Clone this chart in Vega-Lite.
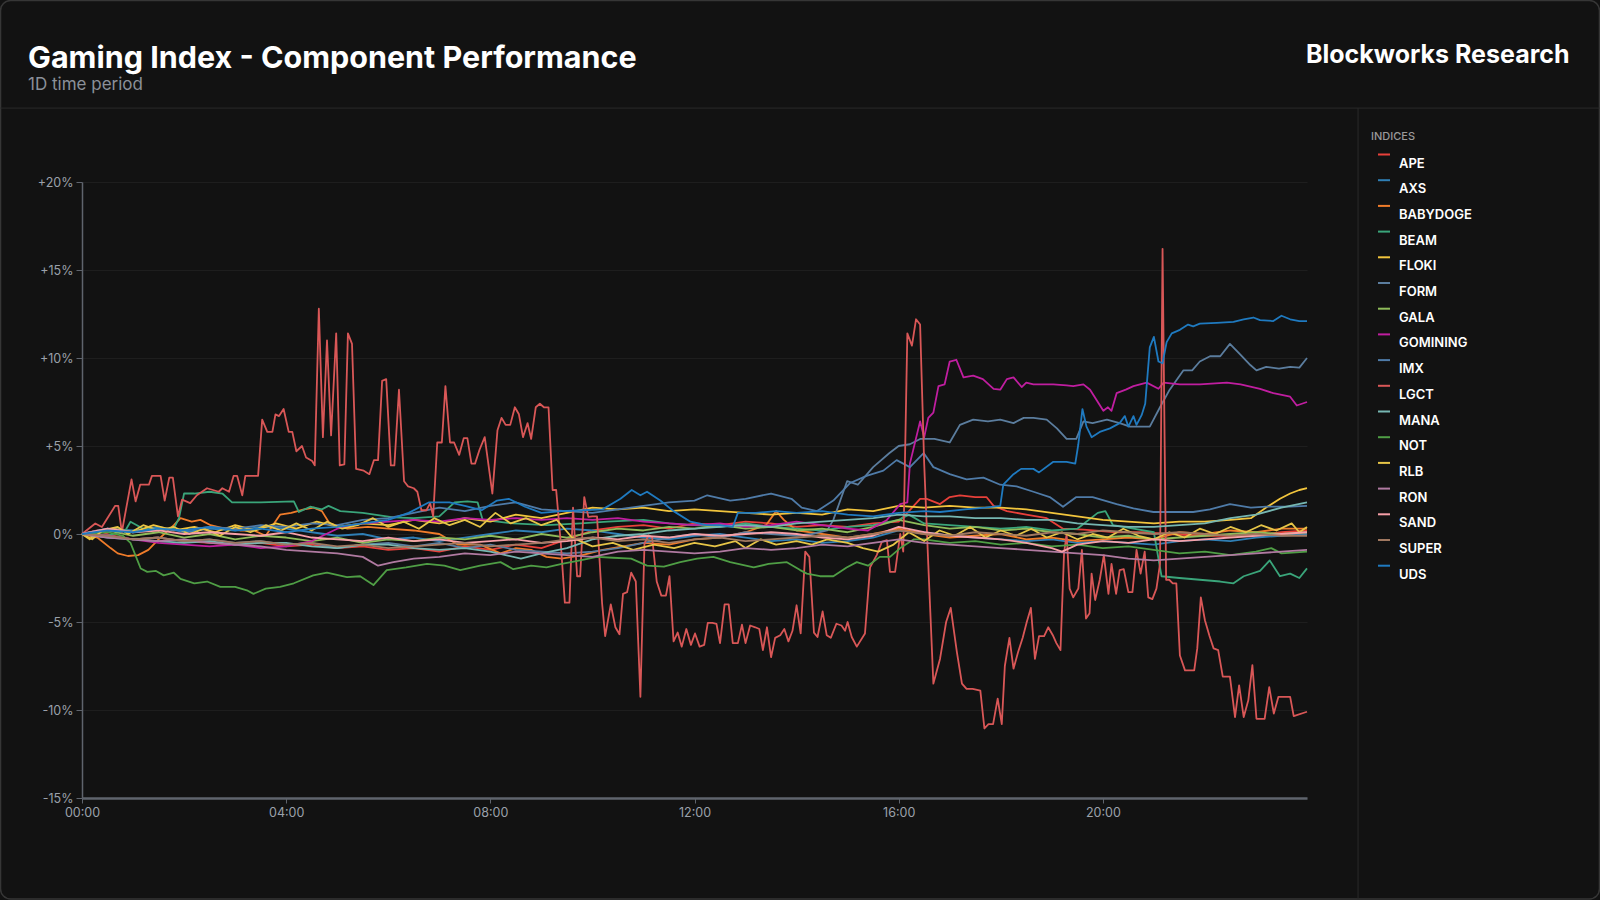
{
"$schema":"https://vega.github.io/schema/vega-lite/v6.json",
"width":1225,"height":616,"autosize":"none",
"padding":{"left":82,"top":182,"right":293,"bottom":102},
"background":"#121212",
"config":{"view":{"stroke":null},"font":"Inter"},
"title":{"text":"Gaming Index - Component Performance","subtitle":"1D time period","anchor":"start","frame":"group","font":"Inter","fontSize":30.5,"fontWeight":"bold","color":"#ffffff","subtitleFont":"Inter","subtitleFontSize":17,"subtitleColor":"#8b9099","subtitlePadding":2,"offset":0,"dx":-54,"dy":93},
"resolve":{"axis":{"x":"independent","y":"independent"}},
"layer":[
{"data":{"values":[{}]},"mark":{"type":"rect","fill":null,"filled":false,"stroke":"#363636","strokeWidth":1.5,"cornerRadius":10,"clip":false},
 "encoding":{"x":{"datum":-1.596,"type":"quantitative","scale":{"domain":[0,24],"nice":false,"zero":false},"axis":{"orient":"top","title":"Blockworks Research","titleFont":"Inter","titleFontSize":25,"titleFontWeight":"bold","titleColor":"#ffffff","titleAlign":"right","titleAnchor":"end","titleBaseline":"alphabetic","titleX":1487,"titleY":-120,"labels":false,"ticks":false,"domain":false,"grid":false}},
  "x2":{"datum":29.73},"y":{"datum":30.31,"type":"quantitative","scale":{"domain":[-15,20],"nice":false,"zero":false},"axis":null},"y2":{"datum":-20.74}}},
{"data":{"values":[{}]},"mark":{"type":"rule","color":"#2a2a2a","strokeWidth":1,"clip":false},
 "encoding":{"x":{"datum":-1.6,"type":"quantitative","axis":null},"x2":{"datum":29.73},"y":{"datum":24.2,"type":"quantitative","axis":null}}},
{"data":{"values":[{}]},"mark":{"type":"rule","color":"#2a2a2a","strokeWidth":1,"clip":false},
 "encoding":{"x":{"datum":25.0,"type":"quantitative","axis":null},"y":{"datum":24.2,"type":"quantitative","axis":null},"y2":{"datum":-20.74}}},
{"data":{"values":[
{"s":"APE","h":0,"v":0},{"s":"APE","h":0.3,"v":0.2},{"s":"APE","h":0.6,"v":-0.1},{"s":"APE","h":1,"v":-0.3},{"s":"APE","h":1.5,"v":-0.2},{"s":"APE","h":2,"v":-0.4},{"s":"APE","h":2.5,"v":-0.5},{"s":"APE","h":3,"v":-0.6},{"s":"APE","h":3.5,"v":-0.5},{"s":"APE","h":4,"v":-0.7},{"s":"APE","h":4.5,"v":-0.6},{"s":"APE","h":5,"v":-0.8},{"s":"APE","h":5.5,"v":-0.7},{"s":"APE","h":6,"v":-0.9},{"s":"APE","h":6.5,"v":-0.8},{"s":"APE","h":7,"v":-1.0},{"s":"APE","h":7.5,"v":-0.7},{"s":"APE","h":8,"v":-0.9},{"s":"APE","h":8.5,"v":-0.6},{"s":"APE","h":9,"v":-0.8},{"s":"APE","h":9.5,"v":-0.3},{"s":"APE","h":10,"v":0.2},{"s":"APE","h":10.5,"v":0.4},{"s":"APE","h":11,"v":0.5},{"s":"APE","h":11.5,"v":0.3},{"s":"APE","h":12,"v":0.6},{"s":"APE","h":12.5,"v":0.5},{"s":"APE","h":13,"v":0.7},{"s":"APE","h":13.5,"v":0.6},{"s":"APE","h":14,"v":0.4},{"s":"APE","h":14.5,"v":0.5},{"s":"APE","h":15,"v":0.4},{"s":"APE","h":15.5,"v":0.6},{"s":"APE","h":16,"v":0.7},{"s":"APE","h":16.17,"v":1.2},{"s":"APE","h":16.42,"v":2.0},{"s":"APE","h":16.55,"v":2.0},{"s":"APE","h":16.81,"v":1.7},{"s":"APE","h":17,"v":2.1},{"s":"APE","h":17.2,"v":2.2},{"s":"APE","h":17.5,"v":2.1},{"s":"APE","h":17.72,"v":2.1},{"s":"APE","h":17.86,"v":1.6},{"s":"APE","h":18.12,"v":1.3},{"s":"APE","h":18.5,"v":1.1},{"s":"APE","h":18.9,"v":0.9},{"s":"APE","h":19.22,"v":0.3},{"s":"APE","h":19.62,"v":0.25},{"s":"APE","h":20.27,"v":0.1},{"s":"APE","h":20.8,"v":0.1},{"s":"APE","h":21.25,"v":0},{"s":"APE","h":22,"v":-0.1},{"s":"APE","h":22.9,"v":-0.1},{"s":"APE","h":23.5,"v":0.1},{"s":"APE","h":24,"v":0.2},
{"s":"AXS","h":0,"v":0},{"s":"AXS","h":0.5,"v":0.3},{"s":"AXS","h":1,"v":0.2},{"s":"AXS","h":1.5,"v":0.4},{"s":"AXS","h":2,"v":0.1},{"s":"AXS","h":2.5,"v":0.3},{"s":"AXS","h":3,"v":0.2},{"s":"AXS","h":3.5,"v":0.4},{"s":"AXS","h":4,"v":0.3},{"s":"AXS","h":4.5,"v":0.1},{"s":"AXS","h":5,"v":-0.1},{"s":"AXS","h":5.5,"v":0},{"s":"AXS","h":6,"v":-0.3},{"s":"AXS","h":6.5,"v":-0.2},{"s":"AXS","h":7,"v":-0.4},{"s":"AXS","h":7.5,"v":-0.2},{"s":"AXS","h":8,"v":0},{"s":"AXS","h":8.5,"v":0.2},{"s":"AXS","h":9,"v":0.1},{"s":"AXS","h":9.5,"v":0.3},{"s":"AXS","h":10,"v":0.2},{"s":"AXS","h":10.5,"v":0},{"s":"AXS","h":11,"v":-0.2},{"s":"AXS","h":11.5,"v":-0.3},{"s":"AXS","h":12,"v":-0.1},{"s":"AXS","h":12.5,"v":0},{"s":"AXS","h":13,"v":-0.2},{"s":"AXS","h":13.5,"v":-0.4},{"s":"AXS","h":14,"v":-0.3},{"s":"AXS","h":14.5,"v":-0.5},{"s":"AXS","h":15,"v":-0.4},{"s":"AXS","h":15.5,"v":-0.2},{"s":"AXS","h":16,"v":0.2},{"s":"AXS","h":16.5,"v":0.1},{"s":"AXS","h":17,"v":-0.1},{"s":"AXS","h":17.5,"v":-0.2},{"s":"AXS","h":18,"v":-0.3},{"s":"AXS","h":18.5,"v":-0.4},{"s":"AXS","h":19,"v":-0.3},{"s":"AXS","h":19.5,"v":-0.5},{"s":"AXS","h":20,"v":-0.4},{"s":"AXS","h":20.5,"v":-0.5},{"s":"AXS","h":21,"v":-0.6},{"s":"AXS","h":21.5,"v":-0.4},{"s":"AXS","h":22,"v":-0.3},{"s":"AXS","h":22.5,"v":-0.4},{"s":"AXS","h":23,"v":-0.2},{"s":"AXS","h":23.5,"v":-0.1},{"s":"AXS","h":24,"v":0},
{"s":"BABYDOGE","h":0,"v":0},{"s":"BABYDOGE","h":0.3,"v":-0.2},{"s":"BABYDOGE","h":0.56,"v":-0.8},{"s":"BABYDOGE","h":0.7,"v":-1.1},{"s":"BABYDOGE","h":0.9,"v":-1.25},{"s":"BABYDOGE","h":1.1,"v":-1.2},{"s":"BABYDOGE","h":1.3,"v":-0.9},{"s":"BABYDOGE","h":1.5,"v":-0.3},{"s":"BABYDOGE","h":1.8,"v":0.5},{"s":"BABYDOGE","h":1.93,"v":0.9},{"s":"BABYDOGE","h":2.15,"v":0.7},{"s":"BABYDOGE","h":2.32,"v":0.8},{"s":"BABYDOGE","h":2.52,"v":0.5},{"s":"BABYDOGE","h":2.8,"v":0.3},{"s":"BABYDOGE","h":3.1,"v":0.2},{"s":"BABYDOGE","h":3.37,"v":0.2},{"s":"BABYDOGE","h":3.6,"v":-0.1},{"s":"BABYDOGE","h":3.88,"v":1.1},{"s":"BABYDOGE","h":4.1,"v":1.2},{"s":"BABYDOGE","h":4.35,"v":1.4},{"s":"BABYDOGE","h":4.54,"v":1.5},{"s":"BABYDOGE","h":4.7,"v":1.3},{"s":"BABYDOGE","h":4.85,"v":0.6},{"s":"BABYDOGE","h":5.2,"v":0.3},{"s":"BABYDOGE","h":5.6,"v":0.4},{"s":"BABYDOGE","h":6,"v":0.3},{"s":"BABYDOGE","h":6.5,"v":0.2},{"s":"BABYDOGE","h":7,"v":0},{"s":"BABYDOGE","h":7.36,"v":-0.6},{"s":"BABYDOGE","h":7.8,"v":-0.6},{"s":"BABYDOGE","h":8.2,"v":-1.1},{"s":"BABYDOGE","h":8.5,"v":-0.8},{"s":"BABYDOGE","h":8.8,"v":-0.9},{"s":"BABYDOGE","h":9.1,"v":-1.3},{"s":"BABYDOGE","h":9.4,"v":-1.4},{"s":"BABYDOGE","h":9.8,"v":-1.2},{"s":"BABYDOGE","h":10.2,"v":-0.9},{"s":"BABYDOGE","h":10.6,"v":-0.7},{"s":"BABYDOGE","h":11,"v":-0.5},{"s":"BABYDOGE","h":11.5,"v":-0.6},{"s":"BABYDOGE","h":12,"v":-0.3},{"s":"BABYDOGE","h":12.5,"v":-0.2},{"s":"BABYDOGE","h":13,"v":0.1},{"s":"BABYDOGE","h":13.4,"v":0.5},{"s":"BABYDOGE","h":13.6,"v":1.3},{"s":"BABYDOGE","h":13.75,"v":0.8},{"s":"BABYDOGE","h":14,"v":0.2},{"s":"BABYDOGE","h":14.5,"v":0},{"s":"BABYDOGE","h":15,"v":-0.2},{"s":"BABYDOGE","h":15.5,"v":0},{"s":"BABYDOGE","h":16,"v":0.3},{"s":"BABYDOGE","h":16.5,"v":0},{"s":"BABYDOGE","h":17,"v":-0.2},{"s":"BABYDOGE","h":17.5,"v":-0.1},{"s":"BABYDOGE","h":18,"v":0},{"s":"BABYDOGE","h":18.5,"v":-0.3},{"s":"BABYDOGE","h":19,"v":-0.2},{"s":"BABYDOGE","h":19.5,"v":-0.4},{"s":"BABYDOGE","h":20,"v":-0.3},{"s":"BABYDOGE","h":20.5,"v":-0.2},{"s":"BABYDOGE","h":21,"v":-0.3},{"s":"BABYDOGE","h":21.5,"v":0.1},{"s":"BABYDOGE","h":22,"v":0},{"s":"BABYDOGE","h":22.5,"v":0.2},{"s":"BABYDOGE","h":23,"v":0.1},{"s":"BABYDOGE","h":23.5,"v":0.3},{"s":"BABYDOGE","h":24,"v":0.3},
{"s":"BEAM","h":0,"v":0},{"s":"BEAM","h":0.5,"v":-0.1},{"s":"BEAM","h":0.85,"v":0.2},{"s":"BEAM","h":0.95,"v":0.7},{"s":"BEAM","h":1.2,"v":0.3},{"s":"BEAM","h":1.5,"v":0.2},{"s":"BEAM","h":1.8,"v":0.3},{"s":"BEAM","h":1.9,"v":0.9},{"s":"BEAM","h":2.0,"v":2.3},{"s":"BEAM","h":2.2,"v":2.3},{"s":"BEAM","h":2.5,"v":2.4},{"s":"BEAM","h":2.75,"v":2.3},{"s":"BEAM","h":2.94,"v":1.8},{"s":"BEAM","h":3.5,"v":1.8},{"s":"BEAM","h":4.15,"v":1.85},{"s":"BEAM","h":4.25,"v":1.25},{"s":"BEAM","h":4.47,"v":1.55},{"s":"BEAM","h":4.7,"v":1.4},{"s":"BEAM","h":4.83,"v":1.6},{"s":"BEAM","h":5.06,"v":1.3},{"s":"BEAM","h":5.5,"v":1.2},{"s":"BEAM","h":6.1,"v":0.95},{"s":"BEAM","h":6.5,"v":0.9},{"s":"BEAM","h":7.0,"v":1.0},{"s":"BEAM","h":7.3,"v":1.8},{"s":"BEAM","h":7.55,"v":1.85},{"s":"BEAM","h":7.75,"v":1.8},{"s":"BEAM","h":7.85,"v":0.8},{"s":"BEAM","h":8.45,"v":0.6},{"s":"BEAM","h":9.1,"v":0.5},{"s":"BEAM","h":9.77,"v":0.6},{"s":"BEAM","h":10.3,"v":0.7},{"s":"BEAM","h":11,"v":0.8},{"s":"BEAM","h":11.5,"v":0.6},{"s":"BEAM","h":12,"v":0.5},{"s":"BEAM","h":12.5,"v":0.4},{"s":"BEAM","h":13,"v":0.6},{"s":"BEAM","h":13.5,"v":0.4},{"s":"BEAM","h":14,"v":0.3},{"s":"BEAM","h":14.5,"v":0.2},{"s":"BEAM","h":15,"v":0.4},{"s":"BEAM","h":15.5,"v":0.5},{"s":"BEAM","h":16,"v":0.8},{"s":"BEAM","h":16.2,"v":1.1},{"s":"BEAM","h":16.5,"v":0.6},{"s":"BEAM","h":17,"v":0.5},{"s":"BEAM","h":17.5,"v":0.4},{"s":"BEAM","h":18,"v":0.3},{"s":"BEAM","h":18.5,"v":0.4},{"s":"BEAM","h":19,"v":0.2},{"s":"BEAM","h":19.5,"v":0.3},{"s":"BEAM","h":19.9,"v":1.2},{"s":"BEAM","h":20.05,"v":1.3},{"s":"BEAM","h":20.2,"v":0.5},{"s":"BEAM","h":20.6,"v":0.3},{"s":"BEAM","h":21.0,"v":0.1},{"s":"BEAM","h":21.15,"v":-2.4},{"s":"BEAM","h":21.5,"v":-2.5},{"s":"BEAM","h":21.9,"v":-2.6},{"s":"BEAM","h":22.3,"v":-2.7},{"s":"BEAM","h":22.56,"v":-2.8},{"s":"BEAM","h":22.76,"v":-2.4},{"s":"BEAM","h":23.08,"v":-2.1},{"s":"BEAM","h":23.27,"v":-1.5},{"s":"BEAM","h":23.47,"v":-2.4},{"s":"BEAM","h":23.67,"v":-2.25},{"s":"BEAM","h":23.85,"v":-2.5},{"s":"BEAM","h":24,"v":-1.95},
{"s":"FLOKI","h":0,"v":0},{"s":"FLOKI","h":0.15,"v":-0.3},{"s":"FLOKI","h":0.3,"v":0.1},{"s":"FLOKI","h":0.6,"v":0.3},{"s":"FLOKI","h":1,"v":0.1},{"s":"FLOKI","h":1.4,"v":0.5},{"s":"FLOKI","h":1.8,"v":0.2},{"s":"FLOKI","h":2.2,"v":0.4},{"s":"FLOKI","h":2.6,"v":0.1},{"s":"FLOKI","h":3,"v":0.5},{"s":"FLOKI","h":3.4,"v":0.2},{"s":"FLOKI","h":3.8,"v":0.6},{"s":"FLOKI","h":4.2,"v":0.3},{"s":"FLOKI","h":4.6,"v":0.7},{"s":"FLOKI","h":5,"v":0.4},{"s":"FLOKI","h":5.5,"v":0.6},{"s":"FLOKI","h":6,"v":0.5},{"s":"FLOKI","h":6.5,"v":0.8},{"s":"FLOKI","h":7,"v":0.6},{"s":"FLOKI","h":7.5,"v":0.9},{"s":"FLOKI","h":8,"v":0.7},{"s":"FLOKI","h":8.5,"v":1.1},{"s":"FLOKI","h":9,"v":0.9},{"s":"FLOKI","h":9.5,"v":1.2},{"s":"FLOKI","h":10,"v":1.5},{"s":"FLOKI","h":10.5,"v":1.4},{"s":"FLOKI","h":11,"v":1.5},{"s":"FLOKI","h":11.5,"v":1.3},{"s":"FLOKI","h":12,"v":1.4},{"s":"FLOKI","h":12.5,"v":1.3},{"s":"FLOKI","h":13,"v":1.2},{"s":"FLOKI","h":13.5,"v":1.1},{"s":"FLOKI","h":14,"v":1.2},{"s":"FLOKI","h":14.5,"v":1.1},{"s":"FLOKI","h":15,"v":1.4},{"s":"FLOKI","h":15.5,"v":1.3},{"s":"FLOKI","h":16,"v":1.6},{"s":"FLOKI","h":16.5,"v":1.5},{"s":"FLOKI","h":17,"v":1.6},{"s":"FLOKI","h":17.5,"v":1.5},{"s":"FLOKI","h":18,"v":1.5},{"s":"FLOKI","h":18.5,"v":1.4},{"s":"FLOKI","h":19,"v":1.2},{"s":"FLOKI","h":19.5,"v":1.0},{"s":"FLOKI","h":20,"v":0.8},{"s":"FLOKI","h":20.5,"v":0.7},{"s":"FLOKI","h":21,"v":0.6},{"s":"FLOKI","h":21.5,"v":0.7},{"s":"FLOKI","h":22,"v":0.7},{"s":"FLOKI","h":22.5,"v":0.8},{"s":"FLOKI","h":22.9,"v":0.9},{"s":"FLOKI","h":23.2,"v":1.5},{"s":"FLOKI","h":23.47,"v":2.0},{"s":"FLOKI","h":23.67,"v":2.3},{"s":"FLOKI","h":23.85,"v":2.5},{"s":"FLOKI","h":24,"v":2.6},
{"s":"FORM","h":0,"v":0},{"s":"FORM","h":0.5,"v":-0.1},{"s":"FORM","h":1,"v":-0.3},{"s":"FORM","h":1.5,"v":-0.2},{"s":"FORM","h":2,"v":-0.4},{"s":"FORM","h":2.5,"v":-0.3},{"s":"FORM","h":3,"v":-0.5},{"s":"FORM","h":3.5,"v":-0.4},{"s":"FORM","h":4,"v":-0.6},{"s":"FORM","h":4.5,"v":-0.5},{"s":"FORM","h":5,"v":-0.8},{"s":"FORM","h":5.5,"v":-0.6},{"s":"FORM","h":6,"v":-0.5},{"s":"FORM","h":6.5,"v":-0.7},{"s":"FORM","h":7,"v":-0.5},{"s":"FORM","h":7.5,"v":-0.8},{"s":"FORM","h":8,"v":-0.6},{"s":"FORM","h":8.5,"v":-0.9},{"s":"FORM","h":9,"v":-1.0},{"s":"FORM","h":9.5,"v":-1.1},{"s":"FORM","h":10,"v":-1.0},{"s":"FORM","h":10.5,"v":-0.8},{"s":"FORM","h":11,"v":-0.5},{"s":"FORM","h":11.5,"v":-0.2},{"s":"FORM","h":12,"v":0},{"s":"FORM","h":12.5,"v":-0.2},{"s":"FORM","h":13,"v":0.1},{"s":"FORM","h":13.5,"v":0},{"s":"FORM","h":14,"v":-0.1},{"s":"FORM","h":14.3,"v":0},{"s":"FORM","h":14.6,"v":0.2},{"s":"FORM","h":14.72,"v":0.8},{"s":"FORM","h":14.99,"v":3.0},{"s":"FORM","h":15.2,"v":2.8},{"s":"FORM","h":15.5,"v":3.8},{"s":"FORM","h":15.82,"v":4.6},{"s":"FORM","h":16,"v":5.0},{"s":"FORM","h":16.22,"v":5.1},{"s":"FORM","h":16.42,"v":5.4},{"s":"FORM","h":16.7,"v":5.4},{"s":"FORM","h":17,"v":5.2},{"s":"FORM","h":17.2,"v":6.2},{"s":"FORM","h":17.46,"v":6.5},{"s":"FORM","h":17.75,"v":6.4},{"s":"FORM","h":17.99,"v":6.5},{"s":"FORM","h":18.25,"v":6.3},{"s":"FORM","h":18.45,"v":6.6},{"s":"FORM","h":18.64,"v":6.6},{"s":"FORM","h":18.9,"v":6.5},{"s":"FORM","h":19.1,"v":6.0},{"s":"FORM","h":19.29,"v":5.4},{"s":"FORM","h":19.48,"v":5.4},{"s":"FORM","h":19.62,"v":6.4},{"s":"FORM","h":19.8,"v":6.3},{"s":"FORM","h":20.08,"v":6.5},{"s":"FORM","h":20.33,"v":6.3},{"s":"FORM","h":20.53,"v":6.1},{"s":"FORM","h":20.92,"v":6.1},{"s":"FORM","h":21.12,"v":7.2},{"s":"FORM","h":21.31,"v":8.2},{"s":"FORM","h":21.58,"v":9.3},{"s":"FORM","h":21.75,"v":9.3},{"s":"FORM","h":21.9,"v":9.8},{"s":"FORM","h":22.1,"v":10.1},{"s":"FORM","h":22.3,"v":10.1},{"s":"FORM","h":22.49,"v":10.8},{"s":"FORM","h":22.69,"v":10.2},{"s":"FORM","h":22.89,"v":9.6},{"s":"FORM","h":23.01,"v":9.3},{"s":"FORM","h":23.2,"v":9.5},{"s":"FORM","h":23.45,"v":9.4},{"s":"FORM","h":23.67,"v":9.5},{"s":"FORM","h":23.85,"v":9.45},{"s":"FORM","h":24,"v":10.0},
{"s":"GALA","h":0,"v":0},{"s":"GALA","h":0.5,"v":0.2},{"s":"GALA","h":1,"v":-0.1},{"s":"GALA","h":1.5,"v":0.1},{"s":"GALA","h":2,"v":-0.2},{"s":"GALA","h":2.5,"v":0},{"s":"GALA","h":3,"v":-0.3},{"s":"GALA","h":3.5,"v":-0.1},{"s":"GALA","h":4,"v":-0.2},{"s":"GALA","h":4.5,"v":-0.4},{"s":"GALA","h":5,"v":-0.2},{"s":"GALA","h":5.5,"v":-0.5},{"s":"GALA","h":6,"v":-0.3},{"s":"GALA","h":6.5,"v":-0.4},{"s":"GALA","h":7,"v":-0.2},{"s":"GALA","h":7.5,"v":-0.3},{"s":"GALA","h":8,"v":-0.1},{"s":"GALA","h":8.5,"v":-0.3},{"s":"GALA","h":9,"v":0},{"s":"GALA","h":9.5,"v":-0.2},{"s":"GALA","h":10,"v":0.1},{"s":"GALA","h":10.5,"v":0.3},{"s":"GALA","h":11,"v":0.2},{"s":"GALA","h":11.5,"v":0.4},{"s":"GALA","h":12,"v":0.3},{"s":"GALA","h":12.5,"v":0.5},{"s":"GALA","h":13,"v":0.3},{"s":"GALA","h":13.5,"v":0.4},{"s":"GALA","h":14,"v":0.2},{"s":"GALA","h":14.5,"v":0.3},{"s":"GALA","h":15,"v":0.1},{"s":"GALA","h":15.5,"v":0.4},{"s":"GALA","h":16,"v":0.8},{"s":"GALA","h":16.5,"v":0.5},{"s":"GALA","h":17,"v":0.3},{"s":"GALA","h":17.5,"v":0.4},{"s":"GALA","h":18,"v":0.2},{"s":"GALA","h":18.5,"v":0.3},{"s":"GALA","h":19,"v":0.1},{"s":"GALA","h":19.5,"v":0},{"s":"GALA","h":20,"v":-0.2},{"s":"GALA","h":20.5,"v":-0.1},{"s":"GALA","h":21,"v":-0.3},{"s":"GALA","h":21.5,"v":-0.2},{"s":"GALA","h":22,"v":-0.1},{"s":"GALA","h":22.5,"v":0},{"s":"GALA","h":23,"v":0.1},{"s":"GALA","h":23.5,"v":0},{"s":"GALA","h":24,"v":0.1},
{"s":"GOMINING","h":0,"v":0},{"s":"GOMINING","h":0.5,"v":-0.1},{"s":"GOMINING","h":1,"v":-0.3},{"s":"GOMINING","h":1.5,"v":-0.5},{"s":"GOMINING","h":2,"v":-0.6},{"s":"GOMINING","h":2.5,"v":-0.7},{"s":"GOMINING","h":3,"v":-0.6},{"s":"GOMINING","h":3.5,"v":-0.8},{"s":"GOMINING","h":4,"v":-0.7},{"s":"GOMINING","h":4.5,"v":-0.4},{"s":"GOMINING","h":5,"v":0.3},{"s":"GOMINING","h":5.5,"v":0.6},{"s":"GOMINING","h":6,"v":0.7},{"s":"GOMINING","h":6.5,"v":0.8},{"s":"GOMINING","h":7,"v":0.7},{"s":"GOMINING","h":7.5,"v":0.9},{"s":"GOMINING","h":8,"v":0.8},{"s":"GOMINING","h":8.5,"v":0.9},{"s":"GOMINING","h":9,"v":0.8},{"s":"GOMINING","h":9.5,"v":0.9},{"s":"GOMINING","h":10,"v":0.8},{"s":"GOMINING","h":10.5,"v":0.9},{"s":"GOMINING","h":11,"v":0.7},{"s":"GOMINING","h":11.5,"v":0.6},{"s":"GOMINING","h":12,"v":0.5},{"s":"GOMINING","h":12.5,"v":0.6},{"s":"GOMINING","h":13,"v":0.4},{"s":"GOMINING","h":13.5,"v":0.5},{"s":"GOMINING","h":14,"v":0.7},{"s":"GOMINING","h":14.5,"v":0.5},{"s":"GOMINING","h":15,"v":0.3},{"s":"GOMINING","h":15.4,"v":0.2},{"s":"GOMINING","h":15.77,"v":0.8},{"s":"GOMINING","h":16.03,"v":1.7},{"s":"GOMINING","h":16.17,"v":1.8},{"s":"GOMINING","h":16.22,"v":4.0},{"s":"GOMINING","h":16.42,"v":6.4},{"s":"GOMINING","h":16.5,"v":5.5},{"s":"GOMINING","h":16.58,"v":6.6},{"s":"GOMINING","h":16.68,"v":6.9},{"s":"GOMINING","h":16.78,"v":8.4},{"s":"GOMINING","h":16.9,"v":8.5},{"s":"GOMINING","h":17,"v":9.8},{"s":"GOMINING","h":17.13,"v":9.9},{"s":"GOMINING","h":17.27,"v":8.9},{"s":"GOMINING","h":17.46,"v":9.0},{"s":"GOMINING","h":17.65,"v":8.8},{"s":"GOMINING","h":17.86,"v":8.25},{"s":"GOMINING","h":17.99,"v":8.2},{"s":"GOMINING","h":18.12,"v":8.8},{"s":"GOMINING","h":18.25,"v":8.9},{"s":"GOMINING","h":18.41,"v":8.35},{"s":"GOMINING","h":18.5,"v":8.6},{"s":"GOMINING","h":18.64,"v":8.5},{"s":"GOMINING","h":19.03,"v":8.5},{"s":"GOMINING","h":19.29,"v":8.45},{"s":"GOMINING","h":19.42,"v":8.4},{"s":"GOMINING","h":19.62,"v":8.5},{"s":"GOMINING","h":19.75,"v":8.2},{"s":"GOMINING","h":19.88,"v":7.6},{"s":"GOMINING","h":20.01,"v":7.0},{"s":"GOMINING","h":20.1,"v":7.2},{"s":"GOMINING","h":20.17,"v":7.0},{"s":"GOMINING","h":20.27,"v":8.0},{"s":"GOMINING","h":20.45,"v":8.2},{"s":"GOMINING","h":20.6,"v":8.4},{"s":"GOMINING","h":20.86,"v":8.6},{"s":"GOMINING","h":21.09,"v":8.25},{"s":"GOMINING","h":21.19,"v":8.6},{"s":"GOMINING","h":21.51,"v":8.5},{"s":"GOMINING","h":21.9,"v":8.5},{"s":"GOMINING","h":22.43,"v":8.6},{"s":"GOMINING","h":22.7,"v":8.5},{"s":"GOMINING","h":23.08,"v":8.25},{"s":"GOMINING","h":23.34,"v":8.0},{"s":"GOMINING","h":23.67,"v":7.8},{"s":"GOMINING","h":23.8,"v":7.3},{"s":"GOMINING","h":24,"v":7.5},
{"s":"IMX","h":0,"v":0},{"s":"IMX","h":0.5,"v":0.3},{"s":"IMX","h":1,"v":0.1},{"s":"IMX","h":1.5,"v":0.3},{"s":"IMX","h":2,"v":0.2},{"s":"IMX","h":2.5,"v":0.4},{"s":"IMX","h":3,"v":0.3},{"s":"IMX","h":3.5,"v":0.5},{"s":"IMX","h":4,"v":0.4},{"s":"IMX","h":4.5,"v":0.6},{"s":"IMX","h":5,"v":0.5},{"s":"IMX","h":5.5,"v":0.8},{"s":"IMX","h":6,"v":0.9},{"s":"IMX","h":6.5,"v":1.2},{"s":"IMX","h":7,"v":1.5},{"s":"IMX","h":7.5,"v":1.3},{"s":"IMX","h":8,"v":1.6},{"s":"IMX","h":8.5,"v":1.8},{"s":"IMX","h":9,"v":1.4},{"s":"IMX","h":9.5,"v":1.3},{"s":"IMX","h":10,"v":1.2},{"s":"IMX","h":10.5,"v":1.4},{"s":"IMX","h":11,"v":1.6},{"s":"IMX","h":11.5,"v":1.8},{"s":"IMX","h":12,"v":1.9},{"s":"IMX","h":12.25,"v":2.2},{"s":"IMX","h":12.7,"v":1.9},{"s":"IMX","h":13,"v":2.0},{"s":"IMX","h":13.5,"v":2.3},{"s":"IMX","h":13.9,"v":2.0},{"s":"IMX","h":14.1,"v":1.5},{"s":"IMX","h":14.4,"v":1.3},{"s":"IMX","h":14.72,"v":1.9},{"s":"IMX","h":15.05,"v":2.9},{"s":"IMX","h":15.37,"v":3.3},{"s":"IMX","h":15.7,"v":3.6},{"s":"IMX","h":15.96,"v":4.2},{"s":"IMX","h":16.22,"v":3.8},{"s":"IMX","h":16.49,"v":4.6},{"s":"IMX","h":16.68,"v":3.8},{"s":"IMX","h":17,"v":3.4},{"s":"IMX","h":17.33,"v":3.1},{"s":"IMX","h":17.66,"v":3.2},{"s":"IMX","h":17.99,"v":2.8},{"s":"IMX","h":18.31,"v":2.7},{"s":"IMX","h":18.64,"v":2.4},{"s":"IMX","h":18.96,"v":2.1},{"s":"IMX","h":19.22,"v":1.55},{"s":"IMX","h":19.48,"v":2.1},{"s":"IMX","h":19.8,"v":2.1},{"s":"IMX","h":20.27,"v":1.7},{"s":"IMX","h":20.6,"v":1.45},{"s":"IMX","h":20.99,"v":1.25},{"s":"IMX","h":21.4,"v":1.25},{"s":"IMX","h":21.77,"v":1.25},{"s":"IMX","h":22.1,"v":1.4},{"s":"IMX","h":22.49,"v":1.7},{"s":"IMX","h":22.9,"v":1.5},{"s":"IMX","h":23.2,"v":1.55},{"s":"IMX","h":23.67,"v":1.55},{"s":"IMX","h":24,"v":1.6},
{"s":"LGCT","h":0,"v":0},{"s":"LGCT","h":0.26,"v":0.6},{"s":"LGCT","h":0.39,"v":0.4},{"s":"LGCT","h":0.65,"v":1.6},{"s":"LGCT","h":0.71,"v":1.6},{"s":"LGCT","h":0.78,"v":0.1},{"s":"LGCT","h":0.97,"v":3.1},{"s":"LGCT","h":1.05,"v":1.85},{"s":"LGCT","h":1.14,"v":2.8},{"s":"LGCT","h":1.31,"v":2.8},{"s":"LGCT","h":1.37,"v":3.3},{"s":"LGCT","h":1.54,"v":3.3},{"s":"LGCT","h":1.62,"v":1.9},{"s":"LGCT","h":1.71,"v":3.2},{"s":"LGCT","h":1.78,"v":3.2},{"s":"LGCT","h":1.88,"v":1.0},{"s":"LGCT","h":1.96,"v":1.95},{"s":"LGCT","h":2.12,"v":1.75},{"s":"LGCT","h":2.25,"v":2.2},{"s":"LGCT","h":2.45,"v":2.6},{"s":"LGCT","h":2.68,"v":2.4},{"s":"LGCT","h":2.75,"v":2.6},{"s":"LGCT","h":2.88,"v":2.4},{"s":"LGCT","h":2.97,"v":3.3},{"s":"LGCT","h":3.04,"v":3.3},{"s":"LGCT","h":3.14,"v":2.2},{"s":"LGCT","h":3.2,"v":3.3},{"s":"LGCT","h":3.45,"v":3.3},{"s":"LGCT","h":3.53,"v":6.5},{"s":"LGCT","h":3.63,"v":5.8},{"s":"LGCT","h":3.73,"v":5.8},{"s":"LGCT","h":3.79,"v":6.8},{"s":"LGCT","h":3.86,"v":6.7},{"s":"LGCT","h":3.95,"v":7.1},{"s":"LGCT","h":4.05,"v":5.8},{"s":"LGCT","h":4.12,"v":5.8},{"s":"LGCT","h":4.2,"v":4.7},{"s":"LGCT","h":4.31,"v":5.0},{"s":"LGCT","h":4.39,"v":4.35},{"s":"LGCT","h":4.51,"v":4.15},{"s":"LGCT","h":4.56,"v":3.9},{"s":"LGCT","h":4.64,"v":12.8},{"s":"LGCT","h":4.72,"v":5.5},{"s":"LGCT","h":4.8,"v":11.0},{"s":"LGCT","h":4.88,"v":5.6},{"s":"LGCT","h":4.98,"v":11.4},{"s":"LGCT","h":5.05,"v":3.9},{"s":"LGCT","h":5.14,"v":3.95},{"s":"LGCT","h":5.21,"v":11.4},{"s":"LGCT","h":5.29,"v":10.8},{"s":"LGCT","h":5.37,"v":3.7},{"s":"LGCT","h":5.52,"v":3.6},{"s":"LGCT","h":5.63,"v":3.4},{"s":"LGCT","h":5.72,"v":4.2},{"s":"LGCT","h":5.8,"v":4.2},{"s":"LGCT","h":5.88,"v":8.7},{"s":"LGCT","h":5.96,"v":8.8},{"s":"LGCT","h":6.05,"v":3.9},{"s":"LGCT","h":6.12,"v":3.9},{"s":"LGCT","h":6.21,"v":8.2},{"s":"LGCT","h":6.31,"v":3.0},{"s":"LGCT","h":6.39,"v":2.7},{"s":"LGCT","h":6.5,"v":2.6},{"s":"LGCT","h":6.57,"v":2.4},{"s":"LGCT","h":6.65,"v":1.35},{"s":"LGCT","h":6.75,"v":1.35},{"s":"LGCT","h":6.82,"v":1.75},{"s":"LGCT","h":6.88,"v":1.0},{"s":"LGCT","h":6.96,"v":5.2},{"s":"LGCT","h":7.05,"v":5.2},{"s":"LGCT","h":7.12,"v":8.4},{"s":"LGCT","h":7.21,"v":5.2},{"s":"LGCT","h":7.29,"v":5.2},{"s":"LGCT","h":7.39,"v":4.5},{"s":"LGCT","h":7.48,"v":5.45},{"s":"LGCT","h":7.55,"v":5.45},{"s":"LGCT","h":7.63,"v":4.0},{"s":"LGCT","h":7.7,"v":4.0},{"s":"LGCT","h":7.79,"v":4.8},{"s":"LGCT","h":7.89,"v":5.5},{"s":"LGCT","h":8.04,"v":2.3},{"s":"LGCT","h":8.14,"v":5.9},{"s":"LGCT","h":8.22,"v":6.6},{"s":"LGCT","h":8.3,"v":6.2},{"s":"LGCT","h":8.39,"v":6.2},{"s":"LGCT","h":8.48,"v":7.2},{"s":"LGCT","h":8.56,"v":6.8},{"s":"LGCT","h":8.64,"v":5.5},{"s":"LGCT","h":8.73,"v":6.3},{"s":"LGCT","h":8.8,"v":5.4},{"s":"LGCT","h":8.89,"v":7.2},{"s":"LGCT","h":8.97,"v":7.4},{"s":"LGCT","h":9.05,"v":7.2},{"s":"LGCT","h":9.14,"v":7.2},{"s":"LGCT","h":9.22,"v":2.5},{"s":"LGCT","h":9.29,"v":2.5},{"s":"LGCT","h":9.38,"v":-0.5},{"s":"LGCT","h":9.46,"v":-3.9},{"s":"LGCT","h":9.55,"v":-3.9},{"s":"LGCT","h":9.62,"v":1.5},{"s":"LGCT","h":9.7,"v":-2.4},{"s":"LGCT","h":9.76,"v":-2.4},{"s":"LGCT","h":9.84,"v":2.1},{"s":"LGCT","h":9.92,"v":0.97},{"s":"LGCT","h":10.0,"v":1.0},{"s":"LGCT","h":10.09,"v":1.0},{"s":"LGCT","h":10.19,"v":-3.95},{"s":"LGCT","h":10.25,"v":-5.8},{"s":"LGCT","h":10.36,"v":-4.0},{"s":"LGCT","h":10.45,"v":-5.3},{"s":"LGCT","h":10.53,"v":-5.7},{"s":"LGCT","h":10.6,"v":-3.4},{"s":"LGCT","h":10.68,"v":-3.3},{"s":"LGCT","h":10.76,"v":-2.2},{"s":"LGCT","h":10.85,"v":-2.7},{"s":"LGCT","h":10.94,"v":-9.25},{"s":"LGCT","h":11.02,"v":-0.54},{"s":"LGCT","h":11.1,"v":-0.07},{"s":"LGCT","h":11.17,"v":-0.2},{"s":"LGCT","h":11.26,"v":-2.7},{"s":"LGCT","h":11.35,"v":-3.5},{"s":"LGCT","h":11.44,"v":-3.5},{"s":"LGCT","h":11.51,"v":-2.4},{"s":"LGCT","h":11.59,"v":-6.1},{"s":"LGCT","h":11.67,"v":-5.6},{"s":"LGCT","h":11.75,"v":-6.4},{"s":"LGCT","h":11.84,"v":-5.4},{"s":"LGCT","h":11.93,"v":-6.3},{"s":"LGCT","h":12.01,"v":-5.65},{"s":"LGCT","h":12.1,"v":-6.4},{"s":"LGCT","h":12.19,"v":-6.3},{"s":"LGCT","h":12.26,"v":-5.05},{"s":"LGCT","h":12.35,"v":-5.05},{"s":"LGCT","h":12.43,"v":-5.1},{"s":"LGCT","h":12.5,"v":-6.2},{"s":"LGCT","h":12.59,"v":-4.0},{"s":"LGCT","h":12.67,"v":-4.0},{"s":"LGCT","h":12.75,"v":-6.2},{"s":"LGCT","h":12.85,"v":-6.2},{"s":"LGCT","h":12.93,"v":-5.15},{"s":"LGCT","h":13.0,"v":-6.2},{"s":"LGCT","h":13.09,"v":-5.2},{"s":"LGCT","h":13.19,"v":-5.3},{"s":"LGCT","h":13.27,"v":-5.4},{"s":"LGCT","h":13.34,"v":-6.6},{"s":"LGCT","h":13.42,"v":-5.3},{"s":"LGCT","h":13.5,"v":-7.0},{"s":"LGCT","h":13.58,"v":-5.9},{"s":"LGCT","h":13.68,"v":-5.75},{"s":"LGCT","h":13.76,"v":-5.4},{"s":"LGCT","h":13.84,"v":-6.1},{"s":"LGCT","h":13.92,"v":-5.5},{"s":"LGCT","h":14.0,"v":-4.05},{"s":"LGCT","h":14.08,"v":-5.65},{"s":"LGCT","h":14.17,"v":-1.0},{"s":"LGCT","h":14.25,"v":-1.3},{"s":"LGCT","h":14.34,"v":-5.6},{"s":"LGCT","h":14.41,"v":-5.85},{"s":"LGCT","h":14.51,"v":-4.4},{"s":"LGCT","h":14.59,"v":-5.75},{"s":"LGCT","h":14.67,"v":-5.9},{"s":"LGCT","h":14.78,"v":-5.1},{"s":"LGCT","h":14.88,"v":-5.2},{"s":"LGCT","h":14.95,"v":-5.5},{"s":"LGCT","h":15.0,"v":-5.0},{"s":"LGCT","h":15.08,"v":-5.85},{"s":"LGCT","h":15.18,"v":-6.4},{"s":"LGCT","h":15.34,"v":-5.65},{"s":"LGCT","h":15.44,"v":-1.9},{"s":"LGCT","h":15.57,"v":-1.2},{"s":"LGCT","h":15.67,"v":-0.45},{"s":"LGCT","h":15.77,"v":-0.35},{"s":"LGCT","h":15.83,"v":-2.15},{"s":"LGCT","h":15.93,"v":-2.15},{"s":"LGCT","h":16.03,"v":0},{"s":"LGCT","h":16.09,"v":-1.0},{"s":"LGCT","h":16.17,"v":11.4},{"s":"LGCT","h":16.26,"v":10.7},{"s":"LGCT","h":16.34,"v":12.2},{"s":"LGCT","h":16.42,"v":11.9},{"s":"LGCT","h":16.5,"v":4.0},{"s":"LGCT","h":16.58,"v":-1.7},{"s":"LGCT","h":16.68,"v":-8.5},{"s":"LGCT","h":16.81,"v":-7.1},{"s":"LGCT","h":16.93,"v":-5.0},{"s":"LGCT","h":17.02,"v":-4.2},{"s":"LGCT","h":17.14,"v":-6.7},{"s":"LGCT","h":17.24,"v":-8.5},{"s":"LGCT","h":17.33,"v":-8.8},{"s":"LGCT","h":17.45,"v":-8.8},{"s":"LGCT","h":17.6,"v":-8.9},{"s":"LGCT","h":17.68,"v":-11.05},{"s":"LGCT","h":17.76,"v":-10.8},{"s":"LGCT","h":17.85,"v":-10.8},{"s":"LGCT","h":17.94,"v":-9.35},{"s":"LGCT","h":18.02,"v":-10.8},{"s":"LGCT","h":18.08,"v":-7.5},{"s":"LGCT","h":18.17,"v":-5.9},{"s":"LGCT","h":18.25,"v":-7.65},{"s":"LGCT","h":18.34,"v":-6.7},{"s":"LGCT","h":18.43,"v":-5.9},{"s":"LGCT","h":18.51,"v":-5.0},{"s":"LGCT","h":18.59,"v":-4.2},{"s":"LGCT","h":18.67,"v":-7.1},{"s":"LGCT","h":18.75,"v":-5.8},{"s":"LGCT","h":18.85,"v":-5.8},{"s":"LGCT","h":18.93,"v":-5.3},{"s":"LGCT","h":19.02,"v":-5.75},{"s":"LGCT","h":19.09,"v":-6.2},{"s":"LGCT","h":19.17,"v":-6.6},{"s":"LGCT","h":19.24,"v":-1.1},{"s":"LGCT","h":19.29,"v":0},{"s":"LGCT","h":19.35,"v":-3.1},{"s":"LGCT","h":19.42,"v":-3.6},{"s":"LGCT","h":19.52,"v":-3.1},{"s":"LGCT","h":19.59,"v":-0.9},{"s":"LGCT","h":19.67,"v":-4.8},{"s":"LGCT","h":19.74,"v":-4.5},{"s":"LGCT","h":19.78,"v":-2.25},{"s":"LGCT","h":19.85,"v":-3.75},{"s":"LGCT","h":19.94,"v":-2.6},{"s":"LGCT","h":20.02,"v":-1.2},{"s":"LGCT","h":20.11,"v":-3.4},{"s":"LGCT","h":20.17,"v":-1.7},{"s":"LGCT","h":20.26,"v":-3.4},{"s":"LGCT","h":20.33,"v":-2.05},{"s":"LGCT","h":20.41,"v":-2.0},{"s":"LGCT","h":20.5,"v":-3.3},{"s":"LGCT","h":20.58,"v":-3.3},{"s":"LGCT","h":20.66,"v":-0.9},{"s":"LGCT","h":20.74,"v":-2.25},{"s":"LGCT","h":20.82,"v":-1.0},{"s":"LGCT","h":20.89,"v":-3.6},{"s":"LGCT","h":20.97,"v":-3.7},{"s":"LGCT","h":21.05,"v":-3.1},{"s":"LGCT","h":21.12,"v":-1.7},{"s":"LGCT","h":21.17,"v":16.2},{"s":"LGCT","h":21.24,"v":-2.6},{"s":"LGCT","h":21.3,"v":-2.6},{"s":"LGCT","h":21.37,"v":-2.8},{"s":"LGCT","h":21.44,"v":-2.8},{"s":"LGCT","h":21.51,"v":-6.9},{"s":"LGCT","h":21.61,"v":-7.75},{"s":"LGCT","h":21.7,"v":-7.75},{"s":"LGCT","h":21.79,"v":-7.75},{"s":"LGCT","h":21.85,"v":-6.5},{"s":"LGCT","h":21.92,"v":-3.6},{"s":"LGCT","h":22.0,"v":-4.9},{"s":"LGCT","h":22.09,"v":-5.8},{"s":"LGCT","h":22.17,"v":-6.5},{"s":"LGCT","h":22.26,"v":-6.6},{"s":"LGCT","h":22.35,"v":-8.1},{"s":"LGCT","h":22.49,"v":-8.1},{"s":"LGCT","h":22.59,"v":-10.4},{"s":"LGCT","h":22.67,"v":-8.6},{"s":"LGCT","h":22.76,"v":-10.4},{"s":"LGCT","h":22.85,"v":-9.45},{"s":"LGCT","h":22.93,"v":-7.45},{"s":"LGCT","h":23.01,"v":-10.5},{"s":"LGCT","h":23.17,"v":-10.5},{"s":"LGCT","h":23.26,"v":-8.7},{"s":"LGCT","h":23.35,"v":-10.2},{"s":"LGCT","h":23.44,"v":-9.25},{"s":"LGCT","h":23.67,"v":-9.25},{"s":"LGCT","h":23.74,"v":-10.35},{"s":"LGCT","h":24,"v":-10.1},
{"s":"MANA","h":0,"v":0},{"s":"MANA","h":0.5,"v":-0.2},{"s":"MANA","h":1,"v":-0.3},{"s":"MANA","h":1.5,"v":-0.4},{"s":"MANA","h":2,"v":-0.5},{"s":"MANA","h":2.5,"v":-0.4},{"s":"MANA","h":3,"v":-0.6},{"s":"MANA","h":3.5,"v":-0.5},{"s":"MANA","h":4,"v":-0.5},{"s":"MANA","h":4.5,"v":-0.7},{"s":"MANA","h":5,"v":-0.8},{"s":"MANA","h":5.5,"v":-0.6},{"s":"MANA","h":6,"v":-0.6},{"s":"MANA","h":6.5,"v":-0.8},{"s":"MANA","h":7,"v":-0.9},{"s":"MANA","h":7.5,"v":-0.8},{"s":"MANA","h":8,"v":-1.0},{"s":"MANA","h":8.3,"v":-1.2},{"s":"MANA","h":8.6,"v":-1.4},{"s":"MANA","h":9,"v":-1.1},{"s":"MANA","h":9.5,"v":-0.8},{"s":"MANA","h":10,"v":-0.3},{"s":"MANA","h":10.5,"v":-0.1},{"s":"MANA","h":11,"v":0},{"s":"MANA","h":11.5,"v":0.2},{"s":"MANA","h":12,"v":0.3},{"s":"MANA","h":12.5,"v":0.4},{"s":"MANA","h":13,"v":0.5},{"s":"MANA","h":13.5,"v":0.4},{"s":"MANA","h":14,"v":0.6},{"s":"MANA","h":14.5,"v":0.7},{"s":"MANA","h":15,"v":0.8},{"s":"MANA","h":15.5,"v":0.9},{"s":"MANA","h":16,"v":1.1},{"s":"MANA","h":16.5,"v":1.0},{"s":"MANA","h":17,"v":1.0},{"s":"MANA","h":17.5,"v":0.9},{"s":"MANA","h":18,"v":0.9},{"s":"MANA","h":18.5,"v":0.8},{"s":"MANA","h":19,"v":0.8},{"s":"MANA","h":19.5,"v":0.6},{"s":"MANA","h":20,"v":0.5},{"s":"MANA","h":20.5,"v":0.4},{"s":"MANA","h":21,"v":0.4},{"s":"MANA","h":21.5,"v":0.5},{"s":"MANA","h":22,"v":0.6},{"s":"MANA","h":22.5,"v":0.9},{"s":"MANA","h":23,"v":1.1},{"s":"MANA","h":23.5,"v":1.5},{"s":"MANA","h":24,"v":1.8},
{"s":"NOT","h":0,"v":0},{"s":"NOT","h":0.5,"v":0.1},{"s":"NOT","h":0.8,"v":-0.1},{"s":"NOT","h":0.95,"v":-0.5},{"s":"NOT","h":1.15,"v":-1.96},{"s":"NOT","h":1.28,"v":-2.15},{"s":"NOT","h":1.45,"v":-2.1},{"s":"NOT","h":1.6,"v":-2.35},{"s":"NOT","h":1.8,"v":-2.2},{"s":"NOT","h":1.93,"v":-2.55},{"s":"NOT","h":2.2,"v":-2.8},{"s":"NOT","h":2.45,"v":-2.7},{"s":"NOT","h":2.71,"v":-3.0},{"s":"NOT","h":3.0,"v":-3.0},{"s":"NOT","h":3.23,"v":-3.2},{"s":"NOT","h":3.36,"v":-3.4},{"s":"NOT","h":3.6,"v":-3.1},{"s":"NOT","h":3.88,"v":-3.0},{"s":"NOT","h":4.15,"v":-2.8},{"s":"NOT","h":4.53,"v":-2.35},{"s":"NOT","h":4.8,"v":-2.2},{"s":"NOT","h":5.19,"v":-2.45},{"s":"NOT","h":5.45,"v":-2.4},{"s":"NOT","h":5.71,"v":-2.9},{"s":"NOT","h":5.97,"v":-2.05},{"s":"NOT","h":6.35,"v":-1.9},{"s":"NOT","h":6.76,"v":-1.7},{"s":"NOT","h":7.1,"v":-1.8},{"s":"NOT","h":7.41,"v":-2.05},{"s":"NOT","h":7.8,"v":-1.8},{"s":"NOT","h":8.2,"v":-1.6},{"s":"NOT","h":8.45,"v":-2.0},{"s":"NOT","h":8.8,"v":-1.8},{"s":"NOT","h":9.1,"v":-1.9},{"s":"NOT","h":9.4,"v":-1.7},{"s":"NOT","h":9.76,"v":-1.5},{"s":"NOT","h":10.09,"v":-1.3},{"s":"NOT","h":10.4,"v":-1.35},{"s":"NOT","h":10.76,"v":-1.4},{"s":"NOT","h":11.07,"v":-1.8},{"s":"NOT","h":11.4,"v":-1.85},{"s":"NOT","h":11.72,"v":-1.6},{"s":"NOT","h":12.05,"v":-1.4},{"s":"NOT","h":12.37,"v":-1.3},{"s":"NOT","h":12.7,"v":-1.6},{"s":"NOT","h":13.16,"v":-1.9},{"s":"NOT","h":13.45,"v":-1.7},{"s":"NOT","h":13.81,"v":-1.6},{"s":"NOT","h":14.07,"v":-2.05},{"s":"NOT","h":14.2,"v":-2.25},{"s":"NOT","h":14.46,"v":-2.4},{"s":"NOT","h":14.72,"v":-2.4},{"s":"NOT","h":14.98,"v":-1.9},{"s":"NOT","h":15.18,"v":-1.6},{"s":"NOT","h":15.4,"v":-1.8},{"s":"NOT","h":15.63,"v":-1.3},{"s":"NOT","h":15.83,"v":-1.3},{"s":"NOT","h":16.03,"v":-0.8},{"s":"NOT","h":16.3,"v":-0.3},{"s":"NOT","h":16.5,"v":-0.3},{"s":"NOT","h":17,"v":-0.5},{"s":"NOT","h":17.5,"v":-0.4},{"s":"NOT","h":18,"v":-0.6},{"s":"NOT","h":18.5,"v":-0.5},{"s":"NOT","h":19,"v":-0.7},{"s":"NOT","h":19.5,"v":-0.6},{"s":"NOT","h":20,"v":-0.8},{"s":"NOT","h":20.5,"v":-0.7},{"s":"NOT","h":21,"v":-0.9},{"s":"NOT","h":21.5,"v":-1.1},{"s":"NOT","h":22,"v":-1.0},{"s":"NOT","h":22.5,"v":-1.2},{"s":"NOT","h":23,"v":-1.0},{"s":"NOT","h":23.3,"v":-0.8},{"s":"NOT","h":23.5,"v":-1.1},{"s":"NOT","h":24,"v":-1.0},
{"s":"RLB","h":0,"v":0},{"s":"RLB","h":0.2,"v":-0.3},{"s":"RLB","h":0.4,"v":0.2},{"s":"RLB","h":0.7,"v":0.4},{"s":"RLB","h":0.9,"v":0},{"s":"RLB","h":1.2,"v":0.5},{"s":"RLB","h":1.5,"v":0.2},{"s":"RLB","h":1.8,"v":0.4},{"s":"RLB","h":2.1,"v":0},{"s":"RLB","h":2.4,"v":0.3},{"s":"RLB","h":2.7,"v":-0.1},{"s":"RLB","h":3.0,"v":0.4},{"s":"RLB","h":3.3,"v":0.1},{"s":"RLB","h":3.6,"v":0.5},{"s":"RLB","h":3.9,"v":0.2},{"s":"RLB","h":4.2,"v":0.6},{"s":"RLB","h":4.5,"v":0.2},{"s":"RLB","h":4.8,"v":0.7},{"s":"RLB","h":5.1,"v":0.3},{"s":"RLB","h":5.4,"v":0.5},{"s":"RLB","h":5.7,"v":0.9},{"s":"RLB","h":6.0,"v":0.4},{"s":"RLB","h":6.3,"v":0.7},{"s":"RLB","h":6.6,"v":0.3},{"s":"RLB","h":6.9,"v":0.9},{"s":"RLB","h":7.2,"v":0.5},{"s":"RLB","h":7.5,"v":0.8},{"s":"RLB","h":7.8,"v":0.4},{"s":"RLB","h":8.1,"v":1.2},{"s":"RLB","h":8.4,"v":0.6},{"s":"RLB","h":8.7,"v":0.9},{"s":"RLB","h":9.0,"v":0.5},{"s":"RLB","h":9.3,"v":0.8},{"s":"RLB","h":9.6,"v":-0.2},{"s":"RLB","h":10.0,"v":-0.7},{"s":"RLB","h":10.4,"v":-0.5},{"s":"RLB","h":10.8,"v":-0.9},{"s":"RLB","h":11.2,"v":-0.6},{"s":"RLB","h":11.6,"v":-0.8},{"s":"RLB","h":12.0,"v":-0.5},{"s":"RLB","h":12.4,"v":-0.7},{"s":"RLB","h":12.8,"v":-0.4},{"s":"RLB","h":13.0,"v":-0.8},{"s":"RLB","h":13.3,"v":-0.3},{"s":"RLB","h":13.6,"v":-0.6},{"s":"RLB","h":14.0,"v":-0.4},{"s":"RLB","h":14.3,"v":-0.6},{"s":"RLB","h":14.6,"v":-0.3},{"s":"RLB","h":15.0,"v":-0.5},{"s":"RLB","h":15.3,"v":-0.8},{"s":"RLB","h":15.6,"v":-1.0},{"s":"RLB","h":15.9,"v":-0.6},{"s":"RLB","h":16.2,"v":0.1},{"s":"RLB","h":16.5,"v":-0.4},{"s":"RLB","h":16.8,"v":0.2},{"s":"RLB","h":17.1,"v":-0.1},{"s":"RLB","h":17.4,"v":0.4},{"s":"RLB","h":17.7,"v":-0.2},{"s":"RLB","h":18.0,"v":0.2},{"s":"RLB","h":18.3,"v":-0.1},{"s":"RLB","h":18.6,"v":0.3},{"s":"RLB","h":18.9,"v":-0.2},{"s":"RLB","h":19.2,"v":0.1},{"s":"RLB","h":19.5,"v":-0.3},{"s":"RLB","h":19.8,"v":0},{"s":"RLB","h":20.1,"v":-0.2},{"s":"RLB","h":20.4,"v":0.3},{"s":"RLB","h":20.7,"v":-0.1},{"s":"RLB","h":21.0,"v":-0.3},{"s":"RLB","h":21.3,"v":0.1},{"s":"RLB","h":21.6,"v":-0.2},{"s":"RLB","h":21.9,"v":0.3},{"s":"RLB","h":22.2,"v":0},{"s":"RLB","h":22.5,"v":0.4},{"s":"RLB","h":22.8,"v":0.1},{"s":"RLB","h":23.1,"v":0.5},{"s":"RLB","h":23.4,"v":0.2},{"s":"RLB","h":23.7,"v":0.6},{"s":"RLB","h":23.85,"v":0.1},{"s":"RLB","h":24,"v":0.4},
{"s":"RON","h":0,"v":0},{"s":"RON","h":0.5,"v":-0.2},{"s":"RON","h":1,"v":-0.3},{"s":"RON","h":1.5,"v":-0.4},{"s":"RON","h":2,"v":-0.3},{"s":"RON","h":2.5,"v":-0.5},{"s":"RON","h":3,"v":-0.6},{"s":"RON","h":3.5,"v":-0.7},{"s":"RON","h":4,"v":-0.9},{"s":"RON","h":4.5,"v":-1.0},{"s":"RON","h":5,"v":-1.1},{"s":"RON","h":5.5,"v":-1.3},{"s":"RON","h":5.8,"v":-1.8},{"s":"RON","h":6.1,"v":-1.6},{"s":"RON","h":6.5,"v":-1.4},{"s":"RON","h":7,"v":-1.3},{"s":"RON","h":7.5,"v":-1.1},{"s":"RON","h":8,"v":-1.2},{"s":"RON","h":8.5,"v":-1.0},{"s":"RON","h":9,"v":-1.1},{"s":"RON","h":9.5,"v":-1.2},{"s":"RON","h":10,"v":-1.3},{"s":"RON","h":10.5,"v":-1.0},{"s":"RON","h":11,"v":-0.9},{"s":"RON","h":11.5,"v":-1.0},{"s":"RON","h":12,"v":-1.1},{"s":"RON","h":12.5,"v":-1.0},{"s":"RON","h":13,"v":-0.8},{"s":"RON","h":13.5,"v":-0.9},{"s":"RON","h":14,"v":-0.8},{"s":"RON","h":14.5,"v":-0.6},{"s":"RON","h":15,"v":-0.7},{"s":"RON","h":15.5,"v":-0.5},{"s":"RON","h":16,"v":-0.3},{"s":"RON","h":16.5,"v":-0.5},{"s":"RON","h":17,"v":-0.6},{"s":"RON","h":17.5,"v":-0.7},{"s":"RON","h":18,"v":-0.8},{"s":"RON","h":18.5,"v":-0.9},{"s":"RON","h":19,"v":-1.0},{"s":"RON","h":19.5,"v":-1.1},{"s":"RON","h":20,"v":-1.2},{"s":"RON","h":20.5,"v":-1.4},{"s":"RON","h":21,"v":-1.5},{"s":"RON","h":21.5,"v":-1.4},{"s":"RON","h":22,"v":-1.3},{"s":"RON","h":22.5,"v":-1.2},{"s":"RON","h":23,"v":-1.1},{"s":"RON","h":23.5,"v":-1.0},{"s":"RON","h":24,"v":-0.9},
{"s":"SAND","h":0,"v":0},{"s":"SAND","h":0.5,"v":0.3},{"s":"SAND","h":1,"v":0.1},{"s":"SAND","h":1.5,"v":0.2},{"s":"SAND","h":2,"v":0},{"s":"SAND","h":2.5,"v":0.1},{"s":"SAND","h":3,"v":0},{"s":"SAND","h":3.5,"v":-0.1},{"s":"SAND","h":4,"v":0.1},{"s":"SAND","h":4.5,"v":-0.2},{"s":"SAND","h":5,"v":-0.3},{"s":"SAND","h":5.5,"v":-0.4},{"s":"SAND","h":6,"v":-0.2},{"s":"SAND","h":6.5,"v":-0.4},{"s":"SAND","h":7,"v":-0.3},{"s":"SAND","h":7.5,"v":-0.5},{"s":"SAND","h":8,"v":-0.4},{"s":"SAND","h":8.5,"v":-0.3},{"s":"SAND","h":9,"v":-0.5},{"s":"SAND","h":9.5,"v":-0.4},{"s":"SAND","h":10,"v":-0.2},{"s":"SAND","h":10.5,"v":-0.3},{"s":"SAND","h":11,"v":-0.1},{"s":"SAND","h":11.5,"v":-0.2},{"s":"SAND","h":12,"v":0},{"s":"SAND","h":12.5,"v":-0.1},{"s":"SAND","h":13,"v":0},{"s":"SAND","h":13.5,"v":0.1},{"s":"SAND","h":14,"v":0},{"s":"SAND","h":14.5,"v":-0.2},{"s":"SAND","h":15,"v":-0.3},{"s":"SAND","h":15.5,"v":-0.1},{"s":"SAND","h":16,"v":0.4},{"s":"SAND","h":16.5,"v":0.1},{"s":"SAND","h":17,"v":-0.1},{"s":"SAND","h":17.5,"v":-0.2},{"s":"SAND","h":18,"v":-0.3},{"s":"SAND","h":18.5,"v":-0.5},{"s":"SAND","h":19,"v":-0.8},{"s":"SAND","h":19.2,"v":-1.0},{"s":"SAND","h":19.5,"v":-0.6},{"s":"SAND","h":20,"v":-0.4},{"s":"SAND","h":20.5,"v":-0.5},{"s":"SAND","h":21,"v":-0.3},{"s":"SAND","h":21.5,"v":-0.4},{"s":"SAND","h":22,"v":-0.3},{"s":"SAND","h":22.5,"v":-0.2},{"s":"SAND","h":23,"v":-0.1},{"s":"SAND","h":23.5,"v":0},{"s":"SAND","h":24,"v":0.1},
{"s":"SUPER","h":0,"v":0},{"s":"SUPER","h":0.5,"v":-0.1},{"s":"SUPER","h":1,"v":-0.3},{"s":"SUPER","h":1.5,"v":-0.2},{"s":"SUPER","h":2,"v":-0.4},{"s":"SUPER","h":2.5,"v":-0.3},{"s":"SUPER","h":3,"v":-0.5},{"s":"SUPER","h":3.5,"v":-0.4},{"s":"SUPER","h":4,"v":-0.6},{"s":"SUPER","h":4.5,"v":-0.5},{"s":"SUPER","h":5,"v":-0.7},{"s":"SUPER","h":5.5,"v":-0.6},{"s":"SUPER","h":6,"v":-0.8},{"s":"SUPER","h":6.5,"v":-0.7},{"s":"SUPER","h":7,"v":-0.6},{"s":"SUPER","h":7.5,"v":-0.5},{"s":"SUPER","h":8,"v":-0.7},{"s":"SUPER","h":8.5,"v":-0.6},{"s":"SUPER","h":9,"v":-0.5},{"s":"SUPER","h":9.5,"v":-0.3},{"s":"SUPER","h":10,"v":-0.2},{"s":"SUPER","h":10.5,"v":-0.4},{"s":"SUPER","h":11,"v":-0.3},{"s":"SUPER","h":11.5,"v":-0.5},{"s":"SUPER","h":12,"v":-0.3},{"s":"SUPER","h":12.5,"v":-0.2},{"s":"SUPER","h":13,"v":-0.4},{"s":"SUPER","h":13.5,"v":-0.3},{"s":"SUPER","h":14,"v":-0.2},{"s":"SUPER","h":14.5,"v":-0.1},{"s":"SUPER","h":15,"v":-0.2},{"s":"SUPER","h":15.5,"v":0},{"s":"SUPER","h":16,"v":0.2},{"s":"SUPER","h":16.5,"v":0},{"s":"SUPER","h":17,"v":-0.1},{"s":"SUPER","h":17.5,"v":0.1},{"s":"SUPER","h":18,"v":0},{"s":"SUPER","h":18.5,"v":-0.1},{"s":"SUPER","h":19,"v":0.1},{"s":"SUPER","h":19.5,"v":0},{"s":"SUPER","h":20,"v":0.2},{"s":"SUPER","h":20.5,"v":0.1},{"s":"SUPER","h":21,"v":0},{"s":"SUPER","h":21.5,"v":0.1},{"s":"SUPER","h":22,"v":0},{"s":"SUPER","h":22.5,"v":-0.1},{"s":"SUPER","h":23,"v":0},{"s":"SUPER","h":23.5,"v":-0.1},{"s":"SUPER","h":24,"v":-0.1},
{"s":"UDS","h":0,"v":0},{"s":"UDS","h":0.5,"v":0.2},{"s":"UDS","h":1,"v":0.1},{"s":"UDS","h":1.5,"v":0.3},{"s":"UDS","h":2,"v":0.2},{"s":"UDS","h":2.5,"v":0.4},{"s":"UDS","h":3,"v":0.2},{"s":"UDS","h":3.5,"v":0.3},{"s":"UDS","h":4,"v":0.1},{"s":"UDS","h":4.5,"v":0.3},{"s":"UDS","h":5,"v":0.4},{"s":"UDS","h":5.5,"v":0.6},{"s":"UDS","h":6,"v":0.8},{"s":"UDS","h":6.4,"v":1.2},{"s":"UDS","h":6.8,"v":1.8},{"s":"UDS","h":7.2,"v":1.8},{"s":"UDS","h":7.5,"v":1.6},{"s":"UDS","h":7.83,"v":1.35},{"s":"UDS","h":8.13,"v":1.9},{"s":"UDS","h":8.36,"v":2.0},{"s":"UDS","h":8.68,"v":1.55},{"s":"UDS","h":9.0,"v":1.2},{"s":"UDS","h":9.4,"v":1.3},{"s":"UDS","h":9.8,"v":1.35},{"s":"UDS","h":10.2,"v":1.4},{"s":"UDS","h":10.55,"v":2.0},{"s":"UDS","h":10.77,"v":2.5},{"s":"UDS","h":10.94,"v":2.2},{"s":"UDS","h":11.07,"v":2.4},{"s":"UDS","h":11.33,"v":1.9},{"s":"UDS","h":11.59,"v":1.3},{"s":"UDS","h":11.92,"v":0.7},{"s":"UDS","h":12.24,"v":0.5},{"s":"UDS","h":12.5,"v":0.5},{"s":"UDS","h":12.75,"v":0.4},{"s":"UDS","h":12.85,"v":1.2},{"s":"UDS","h":13.2,"v":1.2},{"s":"UDS","h":13.6,"v":1.3},{"s":"UDS","h":14.0,"v":1.2},{"s":"UDS","h":14.5,"v":1.3},{"s":"UDS","h":15,"v":1.1},{"s":"UDS","h":15.5,"v":1.0},{"s":"UDS","h":16,"v":1.2},{"s":"UDS","h":16.5,"v":1.3},{"s":"UDS","h":16.81,"v":1.25},{"s":"UDS","h":17.3,"v":1.4},{"s":"UDS","h":17.7,"v":1.5},{"s":"UDS","h":17.99,"v":1.6},{"s":"UDS","h":18.05,"v":2.8},{"s":"UDS","h":18.25,"v":3.4},{"s":"UDS","h":18.4,"v":3.7},{"s":"UDS","h":18.64,"v":3.7},{"s":"UDS","h":18.75,"v":3.5},{"s":"UDS","h":19.03,"v":4.1},{"s":"UDS","h":19.29,"v":4.1},{"s":"UDS","h":19.46,"v":4.0},{"s":"UDS","h":19.52,"v":5.1},{"s":"UDS","h":19.6,"v":7.1},{"s":"UDS","h":19.68,"v":6.1},{"s":"UDS","h":19.78,"v":5.5},{"s":"UDS","h":19.94,"v":5.8},{"s":"UDS","h":20.14,"v":6.0},{"s":"UDS","h":20.33,"v":6.3},{"s":"UDS","h":20.43,"v":6.7},{"s":"UDS","h":20.5,"v":6.1},{"s":"UDS","h":20.6,"v":6.7},{"s":"UDS","h":20.66,"v":6.2},{"s":"UDS","h":20.76,"v":6.75},{"s":"UDS","h":20.83,"v":7.4},{"s":"UDS","h":20.92,"v":10.6},{"s":"UDS","h":21.0,"v":11.2},{"s":"UDS","h":21.09,"v":9.8},{"s":"UDS","h":21.17,"v":9.7},{"s":"UDS","h":21.25,"v":10.9},{"s":"UDS","h":21.35,"v":11.4},{"s":"UDS","h":21.51,"v":11.6},{"s":"UDS","h":21.67,"v":11.9},{"s":"UDS","h":21.77,"v":11.8},{"s":"UDS","h":21.9,"v":11.95},{"s":"UDS","h":22.23,"v":12.0},{"s":"UDS","h":22.56,"v":12.05},{"s":"UDS","h":22.76,"v":12.2},{"s":"UDS","h":22.95,"v":12.3},{"s":"UDS","h":23.08,"v":12.15},{"s":"UDS","h":23.34,"v":12.1},{"s":"UDS","h":23.5,"v":12.4},{"s":"UDS","h":23.67,"v":12.2},{"s":"UDS","h":23.85,"v":12.1},{"s":"UDS","h":24,"v":12.1}
]},
"mark":{"type":"line","strokeWidth":1.8,"strokeJoin":"round"},
"encoding":{
 "x":{"field":"h","type":"quantitative","axis":{"orient":"bottom","values":[0,4,8,12,16,20],"labelExpr":"(datum.value<10?'0':'')+datum.value+':00'","labelFlush":false,"title":null,"grid":false,"domainColor":"#5f646d","domainWidth":2.5,"tickColor":"#5f646d","tickSize":5,"tickWidth":1,"labelColor":"#9ba1aa","labelFont":"Inter","labelFontSize":12.5,"labelPadding":3}},
 "y":{"field":"v","type":"quantitative","axis":{"orient":"left","values":[-15,-10,-5,0,5,10,15,20],"labelExpr":"datum.value>0?'+'+datum.value+'%':datum.value+'%'","title":null,"grid":true,"gridColor":"#1e1e1e","gridWidth":1,"domainColor":"#5f646d","domainWidth":1.5,"tickColor":"#5f646d","tickSize":6,"labelColor":"#9ba1aa","labelFont":"Inter","labelFontSize":12.5,"labelPadding":3}},
 "color":{"field":"s","type":"nominal","scale":{"domain":["APE","AXS","BABYDOGE","BEAM","FLOKI","FORM","GALA","GOMINING","IMX","LGCT","MANA","NOT","RLB","RON","SAND","SUPER","UDS"],"range":["#e8403a","#2f7fb5","#f07c2a","#3aa57a","#f2c53d","#5b7d9e","#8fbc5a","#c01ea0","#4f7ba8","#d95757","#76b7b2","#4f9e45","#e6c547","#b07aa1","#f7a0a8","#a07860","#1f7ac0"]},
  "legend":{"title":"INDICES","orient":"none","legendX":1289,"legendY":-51,"direction":"vertical","symbolType":"M-1,-0.5H1","symbolSize":144,"symbolStrokeWidth":2,"symbolOffset":6,"titleFont":"Inter","titleFontSize":11,"titleFontWeight":500,"titleColor":"#9a9a9a","titlePadding":8.5,"labelFont":"Inter","labelFontSize":13,"labelFontWeight":600,"labelColor":"#ffffff","labelBaseline":"top","labelOffset":8,"rowPadding":5.7}}
}}
]}
